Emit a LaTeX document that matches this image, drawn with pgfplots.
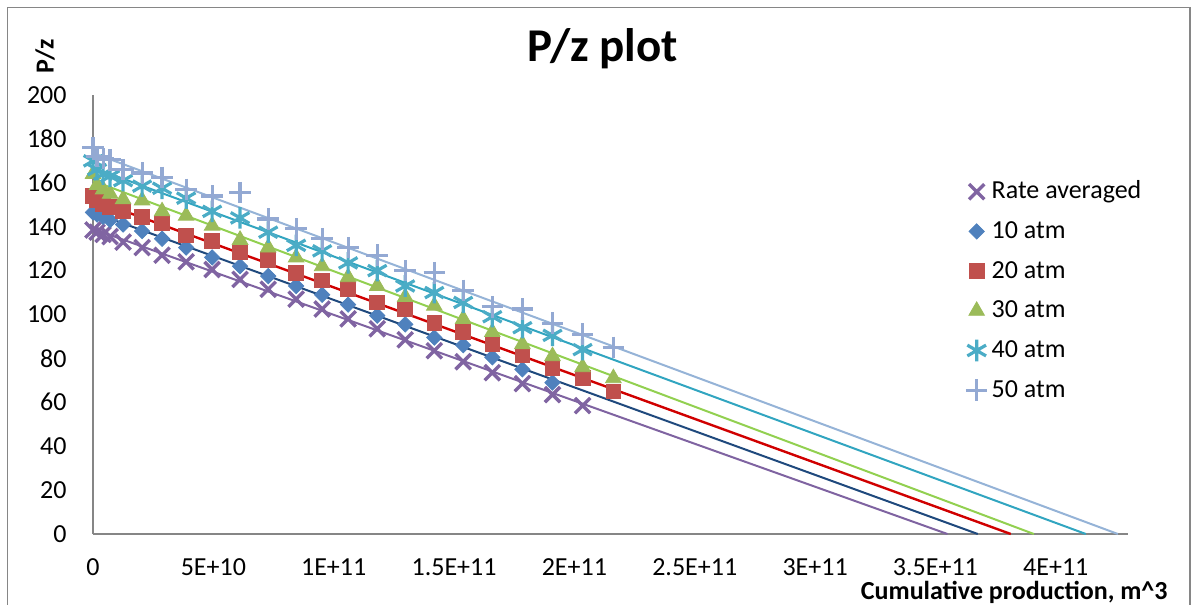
\documentclass[border=0pt]{standalone}
\usepackage{fontspec}
\setmainfont{Carlito}
\usepackage{pgfplots}
\pgfplotsset{compat=1.18}
\definecolor{cPurM}{HTML}{8064A2}
\definecolor{cNavM}{HTML}{4F81BD}
\definecolor{cRedM}{HTML}{C0504D}
\definecolor{cGrnM}{HTML}{9BBB59}
\definecolor{cTeaM}{HTML}{4BACC6}
\definecolor{cLbM}{HTML}{93A9D3}
\definecolor{cPurL}{HTML}{7F63A1}
\definecolor{cNavL}{HTML}{1F497D}
\definecolor{cRedL}{HTML}{D00000}
\definecolor{cGrnL}{HTML}{92D050}
\definecolor{cTeaL}{HTML}{31A5C0}
\definecolor{cLbL}{HTML}{95B3D7}
\definecolor{cAx}{HTML}{868686}
\newcommand{\fs}{\fontsize{13}{15}\selectfont}
\begin{document}
\begin{tikzpicture}
\begin{axis}[
  at={(46.5pt,-267pt)}, anchor=south west,
  scale only axis, width=517.5pt, height=219.5pt,
  xmin=0, xmax=430e9, ymin=0, ymax=200,
  axis x line=bottom, axis y line=left,
  axis line style={-, draw=cAx, line width=0.75pt},
  major tick length=0pt,
  clip=false,
  xtick={0,5e10,1e11,1.5e11,2e11,2.5e11,3e11,3.5e11,4e11},
  xticklabels={0,5E+10,1E+11,1.5E+11,2E+11,2.5E+11,3E+11,3.5E+11,4E+11},
  scaled x ticks=false,
  ytick={0,20,...,200},
  /pgf/number format/assume math mode=true,
  tick label style={font=\fs, inner sep=0pt},
  xticklabel style={anchor=base, yshift=-20.5pt},
  yticklabel style={anchor=east, xshift=-13pt},
  legend style={draw=none, fill=none, at={(0.8422,0.8093)}, anchor=north west,
    inner sep=0pt, outer sep=0pt, row sep=6.85pt, column sep=1.5pt,
    font=\fs, nodes={inner sep=0pt, text height=10pt, text depth=3pt}},
  legend cell align=left,
  legend image code/.code={\path[draw=none,fill=none] (-6pt,-5pt) rectangle (6pt,5pt); \draw[#1] plot coordinates {(0pt,0pt)};},
]
\addplot[only marks, mark=x, mark size=5.4pt, line width=1.7pt, color=cPurM] coordinates {
(0,138.5) (1.7e9,137.5) (4.2e9,136.5) (7.1e9,135.5) (12.5e9,133) (20.4e9,130.5) (28.7e9,127) (38.7e9,124) (49.5e9,120.5) (61.1e9,116) (72.8e9,111.5) (84.4e9,107) (95.2e9,102.5) (106.0e9,98) (118.1e9,93.5) (129.7e9,88.5) (141.8e9,83.5) (153.8e9,78.5) (165.9e9,73.5) (178.4e9,68.5) (190.9e9,63.5) (203.4e9,58.5)};
\addlegendentry{Rate averaged}
\addplot[only marks, mark=square*, mark size=2.7pt, mark options={rotate=45}, draw=cNavM, fill=cNavM] coordinates {
(0,146.5) (1.7e9,145.5) (4.2e9,144.5) (7.1e9,143) (12.5e9,141) (20.4e9,138) (28.7e9,134.5) (38.7e9,130.5) (49.5e9,126) (61.1e9,122) (72.8e9,117.5) (84.4e9,113) (95.2e9,109) (106.0e9,104.5) (118.1e9,99.5) (129.7e9,95.5) (141.8e9,89.5) (153.8e9,86) (165.9e9,80.5) (178.4e9,75) (190.9e9,69)};
\addlegendentry{10 atm}
\addplot[only marks, mark=square*, mark size=3.7pt, draw=cRedM, fill=cRedM] coordinates {
(0,154) (1.7e9,152) (4.2e9,150.5) (7.1e9,149) (12.5e9,147) (20.4e9,144.5) (28.7e9,141.5) (38.7e9,136) (49.5e9,133.5) (61.1e9,128.5) (72.8e9,125) (84.4e9,119) (95.2e9,115.5) (106.0e9,111.5) (118.1e9,105.5) (129.7e9,102.5) (141.8e9,96) (153.8e9,92) (165.9e9,86.5) (178.4e9,81.5) (190.9e9,75.5) (203.4e9,71) (216.2e9,65)};
\addlegendentry{20 atm}
\addplot[only marks, mark=triangle*, mark size=4.5pt, draw=cGrnM, fill=cGrnM] coordinates {
(0,164) (1.7e9,159) (4.2e9,157) (7.1e9,155) (12.5e9,152.5) (20.4e9,152) (28.7e9,147) (38.7e9,145) (49.5e9,140.5) (61.1e9,134) (72.8e9,130.5) (84.4e9,126) (95.2e9,122) (106.0e9,117) (118.1e9,113) (129.7e9,108) (141.8e9,104) (153.8e9,98) (165.9e9,92) (178.4e9,86.5) (190.9e9,81) (203.4e9,76) (216.2e9,71)};
\addlegendentry{30 atm}
\addplot[only marks, mark=asterisk, mark size=5.4pt, line width=1.6pt, color=cTeaM] coordinates {
(0,170) (1.7e9,166) (4.2e9,164) (7.1e9,163) (12.5e9,161) (20.4e9,158.5) (28.7e9,157.5) (38.7e9,153) (49.5e9,147) (61.1e9,144) (72.8e9,137.5) (84.4e9,131.5) (95.2e9,129) (106.0e9,123.5) (118.1e9,120) (129.7e9,113) (141.8e9,110) (153.8e9,105.5) (165.9e9,99) (178.4e9,94) (190.9e9,90.5) (203.4e9,84)};
\addlegendentry{40 atm}
\addplot[only marks, mark=+, mark size=5.4pt, line width=1.6pt, color=cLbM] coordinates {
(0,176) (1.7e9,172) (4.2e9,171) (7.1e9,170.5) (12.5e9,166) (20.4e9,164.5) (28.7e9,162.5) (38.7e9,157) (49.5e9,154) (61.1e9,155.5) (72.8e9,143.5) (84.4e9,139) (95.2e9,134.5) (106.0e9,130.5) (118.1e9,127) (129.7e9,120) (141.8e9,119) (153.8e9,111) (165.9e9,103.5) (178.4e9,102.5) (190.9e9,96) (203.4e9,91) (216.2e9,85)};
\addlegendentry{50 atm}
% trendlines
\addplot[forget plot, no marks, cPurL, line width=1pt] coordinates {(0,139) (355e9,0)};
\addplot[forget plot, no marks, cNavL, line width=1pt] coordinates {(0,146.5) (367.6e9,0)};
\addplot[forget plot, no marks, cRedL, line width=1.2pt] coordinates {(0,152.3) (381.3e9,0)};
\addplot[forget plot, no marks, cGrnL, line width=1pt] coordinates {(0,160.9) (390.9e9,0)};
\addplot[forget plot, no marks, cTeaL, line width=1pt] coordinates {(0,166.9) (412.5e9,0)};
\addplot[forget plot, no marks, cLbL, line width=1pt] coordinates {(0,173.6) (425.8e9,0)};
\end{axis}
\begin{scope}[x=0.5pt,y=-0.5pt]
\draw[cAx, line width=0.75pt] (7.5,640) -- (7.5,7.5) -- (1190,7.5) -- (1190,640);
\node[anchor=base, font=\fontsize{23.5}{28}\selectfont\bfseries, inner sep=0pt] at (602.5,62) {P/z plot};
\node[rotate=90, font=\fs\bfseries, inner sep=0pt] at (45,56) {P/z};
\node[anchor=base east, font=\fs\bfseries, inner sep=0pt] at (1168,599) {Cumulative production, m\^{}3};
\end{scope}
\pgfresetboundingbox
\path[use as bounding box] (0pt,0pt) rectangle (598.5pt,-302pt);
\end{tikzpicture}
\end{document}
